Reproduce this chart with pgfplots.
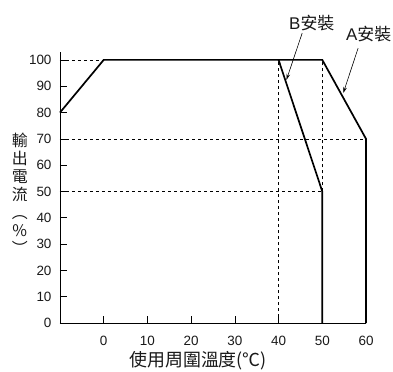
\documentclass[border=0pt]{standalone}
\usepackage{fontspec}
\setmainfont{Liberation Sans}
\newfontfamily\cjk{Noto Sans CJK TC}
\usepackage{pgfplots}
\pgfplotsset{compat=1.18}
\usetikzlibrary{arrows.meta}
\begin{document}
\begin{tikzpicture}
\path[use as bounding box] (-60bp,-49bp) rectangle (333bp,323bp);
\begin{axis}[
  at={(0,0)}, anchor=south west,
  scale only axis, width=306bp, height=271bp,
  xmin=-10, xmax=60, ymin=0, ymax=103,
  axis lines*=left,
  axis line style={line width=0.8bp},
  xtick={0,10,...,60}, ytick={0,10,...,100},
  tick align=inside, major tick length=7bp,
  tick style={line width=0.6bp, black},
  /pgf/number format/assume math mode=true,
  tick label style={font=\fontsize{13.5}{15}\selectfont, text=black!90},
  yticklabel style={xshift=-5bp},
  xticklabel style={yshift=-10bp},
  clip=false,
]
% dashed guide lines
\addplot[black, line width=0.6bp, dash pattern=on 3bp off 3bp] coordinates {(-10,100) (0,100)};
\addplot[black, line width=0.6bp, dash pattern=on 3bp off 3bp] coordinates {(-10,70) (60,70)};
\addplot[black, line width=0.6bp, dash pattern=on 3bp off 3bp] coordinates {(-10,50) (50,50)};
\addplot[black, line width=0.6bp, dash pattern=on 3bp off 3bp] coordinates {(40,0) (40,100)};
\addplot[black, line width=0.6bp, dash pattern=on 3bp off 3bp] coordinates {(50,50) (50,100)};
% A mounting
\addplot[black, line width=1.7bp, line join=miter] coordinates {(-10,80) (0,100) (50,100) (60,70) (60,0)};
% B mounting
\addplot[black, line width=1.7bp, line join=miter] coordinates {(40,100) (50,50) (50,0)};
% annotations
\draw[black, line width=0.6bp, -{Stealth[length=6bp,width=3.5bp]}] (axis cs:45.4,110.2) -- (axis cs:41.8,92.4);
\draw[black, line width=0.6bp, -{Stealth[length=6bp,width=3.5bp]}] (axis cs:58.2,104.5) -- (axis cs:54.8,87.4);
\node[font=\fontsize{17}{19}\selectfont, text=black!90, inner sep=0pt] at (axis cs:47.6,114.0) {B{\cjk 安裝}};
\node[font=\fontsize{17}{19}\selectfont, text=black!90, inner sep=0pt] at (axis cs:60.6,110.0) {A{\cjk 安裝}};
\node[font=\cjk\fontsize{18}{20}\selectfont, text=black!90, inner sep=0pt] at (axis cs:21.6,-14.3) {使用周圍溫度(℃)};
\node[font=\cjk\fontsize{16}{18}\selectfont, text=black!90, align=center, inner sep=0pt] at (axis cs:-19.2,49.2) {輸\\出\\電\\流\\︵\\\%\\︶};
\end{axis}
\end{tikzpicture}
\end{document}
